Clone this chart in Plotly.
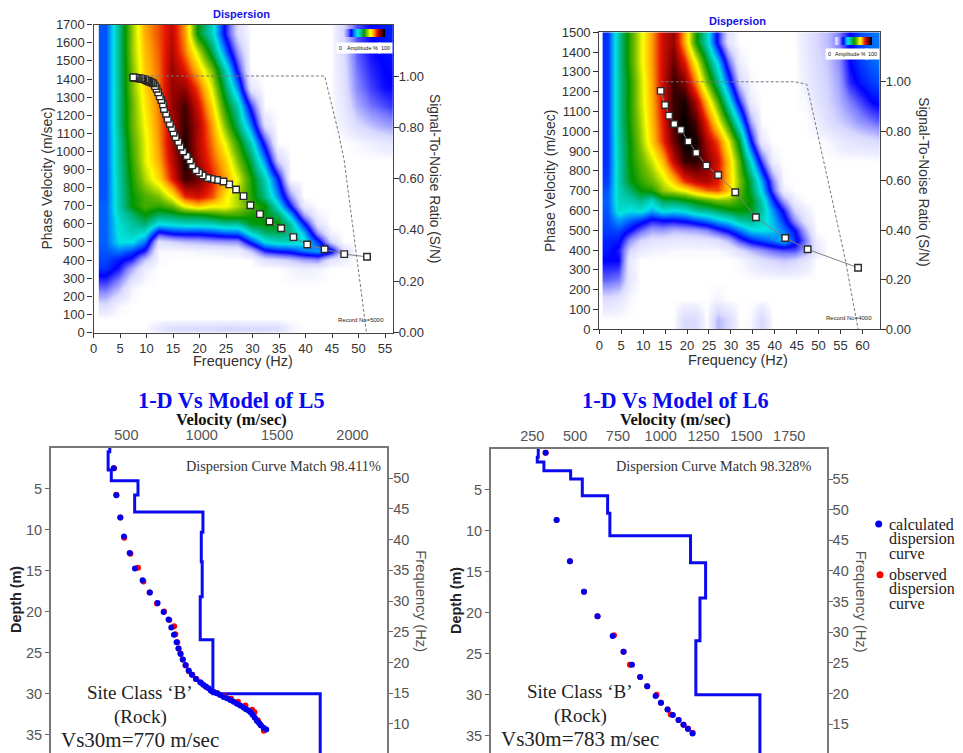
import plotly.graph_objects as go

W, H = 963, 753
SANS = "Liberation Sans"
SERIF = "Liberation Serif"

# ---------- top-left dispersion image (L5) ----------
l5_freq_grid = [2.25, 4.75, 7.25, 9.75, 12.25, 14.75, 17.25, 19.75, 22.25, 24.75, 27.25, 29.75,
                32.25, 34.75, 37.25, 39.75, 42.25, 44.75, 47.25, 49.75, 52.25, 54.75, 57.25]
l5_vel_grid = [25, 75, 150, 250, 350, 400, 450, 500, 550, 600, 650, 700, 750, 850, 950, 1050, 1150, 1250, 1350, 1450, 1550, 1650]
l5_amp = [
    [0, 0, 0, 0, .5, .8, .8, .9, .8, 1, .9, .9, .9, .8, .2, 0, 0, 0, 0, 0, 0, 0, 0],
    [0, 0, 0, 0, 0, 0, 0, 0, 0, 0, 0, 0, 0, 0, 0, 0, 0, 0, 0, 0, 0, 0, 0],
    [.8, .1, 0, 0, 0, 0, 0, 0, 0, 0, 0, 0, 0, 0, 0, 0, 0, 0, 0, 0, 0, 0, 0],
    [2.2, 1.4, .2, 0, 0, 0, 0, 0, 0, 0, 0, 0, 0, 0, 0, 0, 0, 0, 0, 0, 0, 0, 0],
    [3.4, 2.8, 1.5, .3, 0, 0, 0, 0, 0, 0, 0, 0, 0, 0, .2, .3, .2, 0, 0, 0, 0, 0, 0],
    [3.6, 3.2, 2.7, 1.2, .1, 0, 0, 0, 0, 0, 0, 0, .7, .9, 1.2, 1.6, 1.8, .6, .3, 0, 0, 0, 0],
    [3.7, 4, 3.6, 2.8, .1, .1, .1, .2, .2, .3, .3, 1.2, 2.8, 3.2, 3.4, 4, 4.4, 3.4, .8, 0, 0, 0, 0],
    [3.8, 5, 5, 4, .7, 1, 1.3, 1.4, 1.6, 1.7, 1.8, 3.4, 5, 5.4, 5.4, 5.2, 3.4, 1, 0, 0, 0, 0, 0],
    [3.8, 5.1, 5.5, 5.2, 2.7, 3.2, 3.3, 3.3, 3.5, 3.8, 3.9, 5.3, 6.2, 6.4, 6, 4.6, 1.7, .2, 0, 0, 0, 0, 0],
    [3.8, 5.2, 5.8, 6.2, 5, 5.2, 5.4, 5.4, 5.5, 5.8, 5.8, 6.8, 7, 7, 5.7, 3.2, .6, 0, 0, 0, 0, 0, 0],
    [3.8, 5.4, 6.2, 7, 6.3, 6.5, 6.8, 6.8, 7.2, 7.5, 7.5, 7.2, 6.9, 6.3, 4.4, 1.6, .2, 0, 0, 0, 0, 0, 0],
    [3.8, 5.6, 7, 7.6, 7.4, 7.8, 9, 9.6, 9.1, 9.1, 8.4, 7.6, 7, 5.2, 2.8, .4, 0, 0, 0, 0, 0, 0, 0],
    [3.7, 5.6, 7, 7.6, 8, 9, 10.8, 11.2, 10.6, 9.2, 8.3, 7.3, 6, 4.2, 1.8, 0, 0, 0, 0, 0, 0, 0, 0],
    [3.7, 5.7, 7.2, 8.4, 9.4, 11, 12.6, 12.2, 11, 10, 8.8, 7.2, 5.5, 3.2, 0, 0, 0, 0, 0, 0, 0, 0, 0],
    [3.7, 5.8, 7.4, 8.8, 9.9, 11.4, 12.8, 11.7, 10.6, 9.6, 8, 6.5, 4.1, 1.1, 0, 0, 0, 0, 0, 0, 0, 0, 0],
    [3.7, 5.8, 7.6, 8.8, 10.1, 11.6, 12.8, 11.5, 10.3, 8.9, 7.3, 5.5, 2.6, 0, 0, 0, 0, 0, 0, .1, .3, .5, .6],
    [3.7, 6, 7.8, 9, 10.2, 11.5, 12.6, 11.6, 10, 8, 6.2, 4, .7, 0, 0, 0, 0, 0, .3, .9, 1.3, 1.6, 1.8],
    [3.7, 6, 7.8, 9.2, 10.3, 11.8, 12.5, 11.2, 9.4, 7.2, 5.5, 2.6, 0, 0, 0, 0, 0, 0, .5, 1.5, 2.1, 2.4, 2.7],
    [3.7, 6, 8, 9.4, 10.4, 11.8, 11.8, 10.6, 8.75, 6.4, 4.1, .5, 0, 0, 0, 0, 0, 0, .7, 1.9, 2.5, 2.9, 3],
    [3.7, 6, 8, 9.6, 10.4, 11.8, 11, 9.6, 8, 5.6, 2.7, 0, 0, 0, 0, 0, 0, 0, .8, 2.1, 2.7, 3, 3.1],
    [3.7, 6, 8.2, 9.7, 10.5, 11.6, 10.3, 8.6, 6.5, 4, 1.7, 0, 0, 0, 0, 0, 0, 0, .9, 2.3, 2.9, 3.1, 3.2],
    [3.7, 6, 8.2, 9.9, 10.6, 11.4, 10, 6.9, 5.4, 2.9, .8, 0, 0, 0, 0, 0, 0, 0, 1, 2.4, 3, 3.2, 3.3],
]
l5_pick_f = [51.6, 47.3, 43.6, 40.3, 37.7, 35.4, 33.2, 31.4, 29.6, 28.3, 26.9, 25.6, 24.5, 23.3, 22.3, 21.5,
             20.6, 19.9, 19.3, 18.6, 18.2, 17.6, 16.9, 16.4, 16.0, 15.5, 15.1, 14.8, 14.4, 14.0, 13.7, 13.3,
             13.1, 12.8, 12.5, 12.2, 11.9, 11.6, 11.3, 11.0, 10.8, 10.5, 10.3, 10.1, 9.9, 9.7, 9.4, 9.2, 9.0,
             8.7, 8.5, 8.2, 8.0, 7.8, 7.6, 7.5]
l5_pick_v = [418, 433, 460, 486, 527, 576, 613, 654, 703, 753, 790, 818, 834, 842, 847, 853,
             867, 882, 897, 923, 950, 974, 1000, 1026, 1053, 1079, 1103, 1129, 1153, 1180, 1208, 1234,
             1260, 1284, 1304, 1326, 1346, 1361, 1376, 1380, 1383, 1386, 1389, 1391, 1394, 1397, 1400, 1401, 1402,
             1403, 1404, 1405, 1406, 1407, 1408, 1409]
l5_snr_f = [8.0, 43.6, 46.2, 47.3, 51.5]
l5_snr = [1.0, 1.0, 0.78, 0.67, 0.0]

# ---------- top-right dispersion image (L6) ----------
l6_freq_grid = [2, 4.5, 7, 9.5, 12, 14.5, 17, 19.5, 22, 24.5, 27, 29.5, 32, 34.5, 37, 39.5, 42, 44.5,
                47, 49.5, 52, 54.5, 57, 59.5, 62, 64.5]
l6_vel_grid = [50, 150, 250, 350, 400, 450, 500, 550, 600, 650, 700, 750, 850, 950, 1050, 1150, 1250, 1350, 1450]
l6_amp = [
    [0, 0, 0, 0, 0, 0, 0, .9, .9, 0, 1.4, .9, 0, .1, 1, 0, 0, 0, 0, 0, 0, 0, 0, 0, 0, 0],
    [.8, .6, .1, 0, 0, 0, 0, 0, 0, 0, .2, 0, 0, 0, 0, 0, 0, 0, 0, 0, 0, 0, 0, 0, 0, 0],
    [2.2, 2, .5, 0, 0, 0, 0, 0, 0, 0, 0, 0, 0, 0, 0, 0, 0, 0, 0, 0, 0, 0, 0, 0, 0, 0],
    [3, 3, .4, 0, 0, 0, 0, 0, 0, 0, 0, 0, .1, .4, .8, 1, 1.2, 1, .6, 0, 0, 0, 0, 0, 0, 0],
    [3.2, 2.8, 1, .4, .2, .2, .1, .1, .1, .1, .1, .3, .8, 1.4, 1.8, 2.2, 2.4, 2.4, 1.6, .5, 0, 0, 0, 0, 0, 0],
    [3.3, 3.2, 1.8, 1, .7, .6, .5, .5, .5, .6, .8, 1.4, 2.5, 3.2, 3.6, 4, 4.6, 3.4, 2, .3, 0, 0, 0, 0, 0, 0],
    [3.5, 3.6, 3, 2.2, 1.6, 1.7, 1.4, 1.5, 1.6, 1.9, 2.6, 3.2, 4, 4.8, 5, 4.8, 4, 3, 1.4, 0, 0, 0, 0, 0, 0, 0],
    [3.6, 4.3, 3.8, 3.4, 2.8, 3, 3, 3.2, 3.6, 4, 4.6, 5, 5.8, 6, 5.4, 4.6, 3.4, 1.8, .6, 0, 0, 0, 0, 0, 0, 0],
    [3.7, 5.3, 5, 5.2, 4.5, 5.2, 5, 5.2, 5.8, 6, 6.4, 6.8, 7, 6.8, 5.8, 4.2, 2.8, 1, .3, 0, 0, 0, 0, 0, 0, 0],
    [3.8, 5.4, 5.6, 6, 5.4, 6.5, 6.5, 6.8, 7.2, 7.6, 8, 8, 7.4, 7, 5.6, 3.4, 1.6, .3, 0, 0, 0, 0, 0, 0, 0, 0],
    [3.7, 5.5, 6.2, 7, 7.2, 8.2, 8.6, 9, 9.8, 10.4, 10.6, 9.6, 7.8, 6.6, 4.8, 2.4, .3, 0, 0, 0, 0, 0, 0, 0, 0, 0],
    [3.5, 5.6, 6.8, 7.4, 7.9, 8.6, 9.6, 10.8, 11.4, 11.6, 11, 9.6, 8, 6.5, 4.4, 2, .1, 0, 0, 0, 0, 0, 0, 0, 0, 0],
    [3.4, 5.6, 7, 7.8, 8.6, 9.7, 11.4, 12.6, 12.7, 12, 11.2, 9.6, 7.6, 5.2, 2.5, .3, 0, 0, 0, 0, 0, 0, 0, 0, 0, 0],
    [3.4, 5.7, 7, 8.2, 9.5, 10.8, 12.2, 13, 12.9, 11.6, 10.6, 8.8, 6.6, 3.2, .4, 0, 0, 0, 0, 0, .1, .4, .6, .7, .8, 1],
    [3.4, 5.8, 7.2, 8.4, 9.7, 11, 12.5, 13, 12.4, 10.8, 9, 7, 4.6, 1.6, 0, 0, 0, 0, 0, .3, .8, 1.1, 1.4, 1.8, 2.1, 2.4],
    [3.4, 5.8, 7.2, 8.6, 9.8, 11.2, 12.6, 12.8, 11.6, 9.6, 7.6, 5.2, 2.6, .3, 0, 0, 0, 0, .1, .6, 1, 1.4, 2, 2.5, 3, 3.2],
    [3.4, 5.8, 7.2, 8.6, 9.9, 11.3, 12.6, 12, 10.2, 8, 6, 3.6, 1, .1, 0, 0, 0, 0, .3, .8, 1.1, 1.6, 2.7, 3.2, 3.5, 3.7],
    [3.4, 5.8, 7.4, 8.8, 10, 11.3, 12.2, 11, 9, 6.8, 4.8, 2.2, .3, 0, 0, 0, 0, 0, .4, .9, 1.2, 1.8, 3, 3.5, 3.8, 4],
    [3.4, 5.8, 7.4, 8.8, 10, 11.3, 11.8, 9.8, 7.2, 5.4, 2.8, .6, 0, 0, 0, 0, 0, 0, .5, 1, 1.3, 2, 3, 3.6, 3.9, 4],
]
l6_pick_f = [59.0, 47.5, 42.4, 35.7, 31.0, 27.1, 24.4, 22.1, 20.3, 18.6, 17.1, 15.9, 15.0, 14.0]
l6_pick_v = [311, 404, 461, 566, 692, 779, 827, 892, 949, 1007, 1037, 1079, 1133, 1204]
l6_snr_f = [14.0, 44.6, 47.3, 50.2, 56.0, 59.0]
l6_snr = [1.0, 1.0, 0.99, 0.76, 0.29, 0.0]

# ---------- 1-D Vs models ----------
l5_layer_top = [0, 0.45, 2.7, 4.0, 5.75, 7.8, 10.3, 13.9, 18.15, 23.4, 30.0, 38]
l5_layer_vs = [390, 379, 400, 577, 555, 1008, 997, 1003, 990, 1074, 1786]
l5_calc_v = [416, 434, 460, 484, 522, 557, 608, 656, 707, 747, 780, 798, 816, 833, 846, 860, 875, 893, 913, 935,
             961, 990, 1010, 1027, 1045, 1061, 1080, 1100, 1122, 1145, 1167, 1189, 1211, 1233, 1255, 1277, 1294,
             1310, 1324, 1337, 1352, 1366, 1379, 1392, 1410, 1428]
l5_calc_f = [51.6, 47.2, 43.6, 40.5, 37.8, 35.3, 33.4, 31.4, 29.7, 28.2, 27.0, 25.7, 24.5, 23.3, 22.3, 21.4, 20.5,
             19.6, 18.7, 18.0, 17.3, 16.8, 16.4, 16.1, 15.8, 15.4, 15.2, 15.0, 14.7, 14.4, 14.2, 13.9, 13.6, 13.3,
             13.0, 12.7, 12.4, 12.2, 11.9, 11.5, 11.0, 10.5, 10.2, 9.8, 9.4, 9.1]
l5_obs_v = [418, 433, 460, 486, 527, 577, 613, 654, 703, 750, 785, 817, 825, 838, 846, 858, 873, 893, 915, 938,
            965, 995, 1030, 1065, 1105, 1150, 1195, 1240, 1290, 1335, 1350, 1372, 1388, 1412]
l5_obs_f = [51.6, 47.3, 43.6, 40.3, 37.7, 35.4, 33.2, 31.4, 29.6, 28.3, 26.9, 25.9, 24.6, 23.3, 22.3, 21.5, 20.5,
            19.5, 18.6, 18.0, 17.3, 16.7, 16.0, 15.4, 15.0, 14.5, 14.1, 13.6, 13.0, 12.3, 11.9, 10.6, 9.9, 8.9]

l6_layer_top = [0, 1.0, 1.6, 2.65, 3.66, 5.7, 7.85, 10.6, 13.9, 18.2, 23.4, 30.0, 38]
l6_layer_vs = [285, 279, 318, 474, 542, 690, 703, 1174, 1262, 1229, 1205, 1579]
l6_calc_v = [328, 392, 470, 552, 631, 719, 783, 832, 880, 921, 970, 1001, 1040, 1071, 1104, 1133, 1159, 1186]
l6_calc_f = [59.3, 48.3, 41.6, 36.6, 32.6, 29.4, 26.8, 24.7, 22.7, 21.2, 19.6, 18.5, 17.4, 16.5, 15.7, 14.9, 14.2, 13.5]
l6_obs_v = [328, 392, 470, 552, 631, 727, 783, 820, 880, 921, 976, 1001, 1040, 1058, 1104, 1133, 1159, 1186]
l6_obs_f = [59.3, 48.3, 41.6, 36.6, 32.6, 29.5, 26.8, 24.7, 22.7, 21.2, 19.8, 18.5, 17.4, 16.6, 15.7, 14.9, 14.3, 13.6]

# ---------- tick labels and colour ramp ----------
l5_vel_ticks = [500, 1000, 1500, 2000]
l6_vel_ticks = [250, 500, 750, 1000, 1250, 1500, 1750]
depth_ticks = [5, 10, 15, 20, 25, 30, 35]
l5_freq_ticks = [10, 15, 20, 25, 30, 35, 40, 45, 50]
l6_freq_ticks = [15, 20, 25, 30, 35, 40, 45, 50, 55]
snr_ticks = [0, 0.2, 0.4, 0.6, 0.8, 1.0]
amp_scale = [[1, 2, 3, 4, 5, 6, 7, 8, 9, 10, 11, 12, 13]]
ramp_levels = [0, .25, 1, 2, 3, 4, 5, 6, 7, 8, 9, 10, 11, 12, 13]
ramp_colors = ["#ffffff", "#f0f0ff", "#d8d8ff", "#8080ff", "#0000ff", "#0078ff", "#00e6e6", "#00b98c", "#009600",
               "#78be00", "#ffff00", "#ffa000", "#e61400", "#820000", "#000000"]
RAMP = [[lv / 13, c] for lv, c in zip(ramp_levels, ramp_colors)]


def hx(l, r):
    return [l / W, r / W]


def vy(t, b):
    return [1 - b / H, 1 - t / H]


def px(x):
    return x / W


def py(y):
    return 1 - y / H


def stairs(tops, vs):
    xs, ys = [], []
    for i, v in enumerate(vs):
        xs += [v, v]
        ys += [tops[i], tops[i + 1]]
    return xs, ys


fig = go.Figure()

TOPF = dict(family=SANS, size=13, color="#333333")
LOWF = dict(family=SANS, size=14.5, color="#555555")


def top_panel(i, xdom, ydom, xrange, ymax, dticky, freq, vel, amp, pf, pv, sf, sn):
    xa, ya, ya2 = ("x" + str(i), "y" + str(2 * i - 1), "y" + str(2 * i))
    fig.add_trace(go.Heatmap(x=freq, y=vel, z=amp, zmin=0, zmax=13, zsmooth="best", colorscale=RAMP,
                             showscale=False, xaxis=xa, yaxis=ya, name="Amplitude"))
    fig.add_trace(go.Scatter(x=pf, y=pv, mode="lines+markers", xaxis=xa, yaxis=ya, name="Dispersion picks",
                             line=dict(color="#808080", width=1),
                             marker=dict(symbol="square", size=6.5, color="white", line=dict(color="#2a2a2a", width=1.4))))
    fig.add_trace(go.Scatter(x=sf, y=sn, mode="lines", xaxis=xa, yaxis=ya2, name="S/N",
                             line=dict(color="#777777", width=1, dash="3px,2px")))
    fig.update_layout({
        ("xaxis" + ("" if i == 1 else str(i))): dict(
            domain=xdom, range=xrange, anchor=ya, tick0=0, dtick=5, ticks="outside", ticklen=4, tickcolor="#333333",
            showline=True, linecolor="#444444", linewidth=1.2, mirror=True, showgrid=False, zeroline=False,
            automargin=False, tickfont=TOPF),
        ("yaxis" + str(2 * i - 1) if i > 1 else "yaxis"): dict(
            domain=ydom, range=[0, ymax], anchor=xa, tick0=0, dtick=dticky, ticks="outside", ticklen=5, tickcolor="#333333",
            showline=True, linecolor="#444444", linewidth=1.2, showgrid=False, zeroline=False,
            automargin=False, tickfont=TOPF),
        ("yaxis" + str(2 * i)): dict(
            domain=ydom, range=[0, 1.2], overlaying=ya, anchor=xa, side="right", tickvals=snr_ticks,
            ticktext=["0.00", "0.20", "0.40", "0.60", "0.80", "1.00"], ticks="outside", ticklen=5, ticklabelstandoff=-3,
            tickcolor="#333333", showline=True, linecolor="#444444", linewidth=1.2, showgrid=False, zeroline=False,
            automargin=False, tickfont=TOPF),
    })


def low_panel(i, xdom, ydom, vrange, drange, frange, velt, freqt, tops, vs, cv, cf, ov, of):
    n = i + 2
    xa, ya, ya2 = "x" + str(n), "y" + str(2 * n - 1), "y" + str(2 * n)
    mx, my = stairs(tops, vs)
    fig.add_trace(go.Scatter(x=mx, y=my, mode="lines", xaxis=xa, yaxis=ya, name="Vs model",
                             line=dict(color="#0a0af0", width=3)))
    fig.add_trace(go.Scatter(x=ov, y=of, mode="markers", xaxis=xa, yaxis=ya2, name="observed dispersion curve",
                             marker=dict(color="#ff0000", size=6)))
    fig.add_trace(go.Scatter(x=cv, y=cf, mode="markers", xaxis=xa, yaxis=ya2, name="calculated dispersion curve",
                             marker=dict(color="#0000ee", size=6)))
    fig.update_layout({
        "xaxis" + str(n): dict(domain=xdom, range=vrange, anchor=ya, side="top", tickvals=velt, ticks="",
                               showline=True, linecolor="#777777", linewidth=2, showgrid=False, zeroline=False,
                               automargin=False, tickfont=LOWF),
        "yaxis" + str(2 * n - 1): dict(domain=ydom, range=drange, anchor=xa, tickvals=depth_ticks, ticks="outside",
                                       ticklen=4, tickcolor="#666666", showline=True, linecolor="#777777",
                                       linewidth=2, showgrid=False, zeroline=False, automargin=False, tickfont=LOWF),
        "yaxis" + str(2 * n): dict(domain=ydom, range=frange, overlaying=ya, anchor=xa, side="right", tickvals=freqt,
                                   ticks="outside", ticklen=4, ticklabelstandoff=-3, tickcolor="#666666", showline=True,
                                   linecolor="#777777", linewidth=2, showgrid=False, zeroline=False, automargin=False,
                                   tickfont=LOWF),
    })


top_panel(1, hx(93.5, 393), vy(24.7, 332.5), [0, 56.5], 1700, 100, l5_freq_grid, l5_vel_grid, l5_amp,
          l5_pick_f, l5_pick_v, l5_snr_f, l5_snr)
top_panel(2, hx(599.3, 880), vy(32.3, 329.3), [0, 64], 1500, 100, l6_freq_grid, l6_vel_grid, l6_amp,
          l6_pick_f, l6_pick_v, l6_snr_f, l6_snr)
low_panel(1, hx(51, 387.3), vy(448, 753), [0, 2231], [37.24, 0], [5.28, 54.9], l5_vel_ticks, l5_freq_ticks,
          l5_layer_top, l5_layer_vs, l5_calc_v, l5_calc_f, l5_obs_v, l5_obs_f)
low_panel(2, hx(491, 826.7), vy(449, 753), [9, 1969], [37.12, 0], [10.3, 59.9], l6_vel_ticks, l6_freq_ticks,
          l6_layer_top, l6_layer_vs, l6_calc_v, l6_calc_f, l6_obs_v, l6_obs_f)

# small amplitude colour keys
for n, (xd, yd) in {5: (hx(342, 385), vy(29, 37)), 6: (hx(835, 872), vy(37, 45))}.items():
    fig.add_trace(go.Heatmap(z=amp_scale, zmin=0, zmax=13, colorscale=RAMP, showscale=False, zsmooth="best",
                             xaxis="x" + str(n), yaxis="y" + str(2 * n - 1), name="Amplitude key"))
    fig.update_layout({
        "xaxis" + str(n): dict(domain=xd, visible=False, anchor="y" + str(2 * n - 1)),
        "yaxis" + str(2 * n - 1): dict(domain=yd, visible=False, anchor="x" + str(n)),
    })


def note(text, x, y, size, color="#000000", family=SERIF, align="center", bg=None, bold=False, angle=0, pad=0):
    fig.add_annotation(text=("<b>%s</b>" % text) if bold else text, x=px(x), y=py(y), xref="paper", yref="paper",
                       showarrow=False, xanchor=align, yanchor="middle", align=align, bgcolor=bg, textangle=angle,
                       font=dict(family=family, size=size, color=color), borderpad=pad)


# axis titles
note("Phase Velocity (m/sec)", 46.5, 179, 14, "#333333", SANS, angle=-90)
note("Frequency (Hz)", 242.7, 361, 14.5, "#333333", SANS)
note("Signal-To-Noise Ratio (S/N)", 435, 178, 13.8, "#333333", SANS, angle=90)
note("Phase Velocity (m/sec)", 550, 181, 14, "#333333", SANS, angle=-90)
note("Frequency (Hz)", 738, 359.5, 14.5, "#333333", SANS)
note("Signal-To-Noise Ratio (S/N)", 923.5, 181.7, 13.8, "#333333", SANS, angle=90)
note("Depth (m)", 16, 600, 14.4, "#222222", SANS, bold=True, angle=-90)
note("Frequency (Hz)", 421.5, 600.7, 14.8, "#555555", SANS, angle=90)
note("Depth (m)", 456, 601, 14.4, "#222222", SANS, bold=True, angle=-90)
note("Frequency (Hz)", 861, 601.7, 14.8, "#555555", SANS, angle=90)

note("Dispersion", 241, 14.5, 11, "#1414e6", SANS, bold=True)
note("Dispersion", 737, 21, 11, "#1414e6", SANS, bold=True)
note("1-D Vs Model of L5", 231, 400, 22.3, "#0a0af0", bold=True)
note("1-D Vs Model of L6", 675, 400, 22.3, "#0a0af0", bold=True)
note("Velocity (m/sec)", 231, 420, 16.5, "#111111", bold=True)
note("Velocity (m/sec)", 675, 420, 16.5, "#111111", bold=True)
note("Dispersion Curve Match 98.411%", 283.5, 466, 14.3, "#333333")
note("Dispersion Curve Match 98.328%", 713, 465.7, 14.3, "#333333")
for cx, ys, last in [(140, (692, 717, 740), "Vs30m=770 m/sec"), (580, (691, 716, 739), "Vs30m=783 m/sec")]:
    note("Site Class ‘B’", cx, ys[0], 19, "#222222")
    note("(Rock)", cx, ys[1], 19, "#222222")
    note(last, cx, ys[2], 21, "#222222")
for x, y, t in [(340, 48, "0"), (362, 48, "Amplitude %"), (385, 48, "100"),
                (829, 54, "0"), (850, 54, "Amplitude %"), (872, 54, "100")]:
    note(t, x, y, 5.5, "#111111", SANS, bg="#ffffff", pad=2)
note("Record No=5000", 361, 320, 6, "#222222", SANS)
note("Record No=4000", 849, 318, 6, "#222222", SANS)
for y, t in [(524, "calculated"), (538.5, "dispersion"), (553, "curve"),
             (574, "observed"), (588.5, "dispersion"), (603, "curve")]:
    note(t, 888, y, 16, "#222222", align="left")

legend_swatches = [(878.7, 524, "#0000ee"), (880, 574.7, "#ff0000")]
for cx, cy, col in legend_swatches:
    fig.add_shape(type="circle", xref="paper", yref="paper", x0=px(cx - 3.5), x1=px(cx + 3.5),
                  y0=py(cy + 3.5), y1=py(cy - 3.5), fillcolor=col, line_width=0)

fig.update_layout(width=W, height=H, autosize=False, margin=dict(l=0, r=0, t=0, b=0), showlegend=False,
                  paper_bgcolor="white", plot_bgcolor="white", font=dict(family=SANS))
fig.write_html("out.html", config=dict(displayModeBar=False),
               post_script="document.body.style.margin='0';document.body.style.overflow='hidden';")
